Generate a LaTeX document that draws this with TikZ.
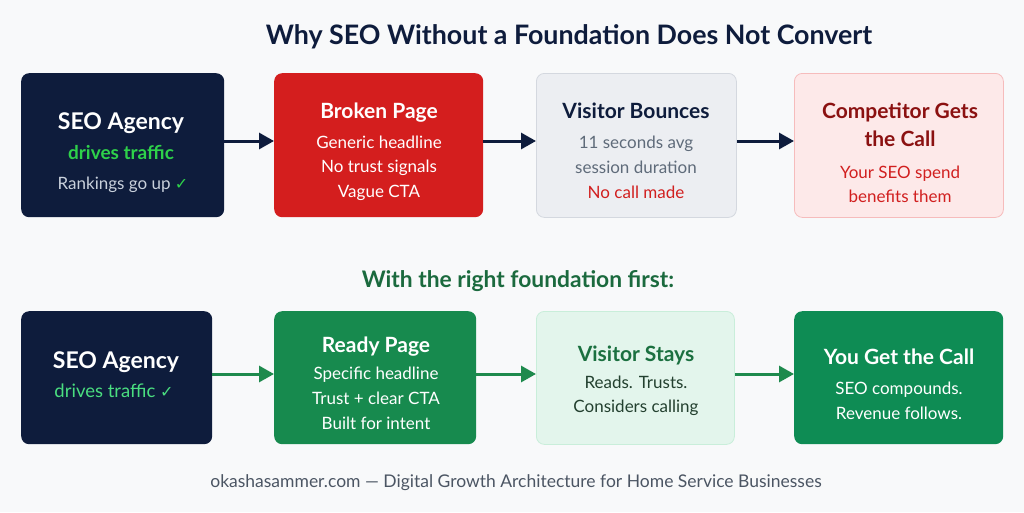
\documentclass[tikz,border=0pt]{standalone}
\usepackage{fontspec}
\setmainfont{Lato}
\newfontfamily\symf{DejaVu Sans}
\usetikzlibrary{arrows.meta}
\definecolor{bgc}{HTML}{F8F9FA}
\definecolor{navy}{HTML}{0E1C3C}
\definecolor{redbox}{HTML}{D41E1E}
\definecolor{graybox}{HTML}{ECEEF2}
\definecolor{grayline}{HTML}{D4D8DF}
\definecolor{pinkbox}{HTML}{FDE9E9}
\definecolor{pinkline}{HTML}{F6BCBC}
\definecolor{darkred}{HTML}{8B1111}
\definecolor{redtext}{HTML}{D11F1F}
\definecolor{greenbox}{HTML}{178A4E}
\definecolor{greenbox2}{HTML}{0E8C54}
\definecolor{lgreenbox}{HTML}{E3F5EC}
\definecolor{lgreenline}{HTML}{C9EEDA}
\definecolor{dgreen}{HTML}{1B6A3E}
\definecolor{gtitle}{HTML}{1B7040}
\definecolor{gtext}{HTML}{23402F}
\definecolor{bright}{HTML}{2ED14A}
\definecolor{lbright}{HTML}{4ADE80}
\definecolor{slate}{HTML}{5F6B7A}
\definecolor{ltslate}{HTML}{C9D1DC}
\definecolor{footc}{HTML}{4B5563}
\definecolor{garrow}{HTML}{1E8A4D}
\tikzset{
  box/.style={rectangle, rounded corners=8pt, anchor=north west, inner sep=0pt},
  ttl/.style={anchor=base, inner sep=0pt, font=\fontsize{21}{25}\selectfont\bfseries},
  bigttl/.style={anchor=base, inner sep=0pt, font=\fontsize{23}{27}\selectfont\bfseries},
  ln/.style={anchor=base, inner sep=0pt, font=\fontsize{17}{20}\selectfont},
  navyarrow/.style={draw=navy, line width=3pt, -{Triangle[length=15pt,width=16pt]}},
  greenarrow/.style={draw=garrow, line width=3pt, -{Triangle[length=15pt,width=16pt]}},
}
\begin{document}
\begin{tikzpicture}[x=1pt,y=-1pt]
\fill[bgc] (0,0) rectangle (1024,512);
\useasboundingbox (0,0) rectangle (1024,512);
% title
\node[anchor=base, inner sep=0pt, text=navy, font=\fontsize{26.8}{32}\selectfont\bfseries] (title) at (569,44) {Why SEO Without a Foundation Does Not Convert};
% top row boxes
\node[box, fill=navy, minimum width=203pt, minimum height=144pt] (a1) at (21,73) {};
\node[box, fill=redbox, minimum width=209pt, minimum height=144pt] (a2) at (274,73) {};
\node[box, fill=graybox, draw=grayline, line width=0.8pt, minimum width=200pt, minimum height=144pt] (a3) at (536,73) {};
\node[box, fill=pinkbox, draw=pinkline, line width=0.8pt, minimum width=209pt, minimum height=144pt] (a4) at (794,73) {};
% top texts
\node[bigttl, text=white] (a1t) at (121,129) {SEO Agency};
\node[anchor=base, inner sep=0pt, font=\fontsize{19}{23}\selectfont\bfseries, text=bright] (a1l1) at (121,159) {drives traffic};
\node[ln, text=ltslate] (a1l2) at (123,189) {Rankings go up {\symf\color{bright}\fontsize{16}{19}\selectfont ✓}};
\node[ttl, text=white] (a2t) at (379,118) {Broken Page};
\node[ln, text=white] (a2l1) at (379,148) {Generic headline};
\node[ln, text=white] (a2l2) at (379,172) {No trust signals};
\node[ln, text=white] (a2l3) at (379,197) {Vague CTA};
\node[ttl, text=navy] (a3t) at (636,118) {Visitor Bounces};
\node[ln, text=slate] (a3l1) at (636,148) {11 seconds avg};
\node[ln, text=slate] (a3l2) at (636,173) {session duration};
\node[ln, text=redtext] (a3l3) at (636,198) {No call made};
\node[ttl, text=darkred] (a4t) at (900,118) {Competitor Gets};
\node[ttl, text=darkred] (a4t2) at (900,146) {the Call};
\node[ln, text=redtext] (a4l1) at (900,178) {Your SEO spend};
\node[ln, text=redtext] (a4l2) at (900,202) {benefits them};
% top arrows
\draw[navyarrow] (a1.east |- 0,141) -- (a2.west |- 0,141);
\draw[navyarrow] (a2.east |- 0,141) -- (a3.west |- 0,141);
\draw[navyarrow] (a3.east |- 0,141) -- (a4.west |- 0,141);
% heading
\node[anchor=base, inner sep=0pt, text=dgreen, font=\fontsize{22.8}{27}\selectfont\bfseries] (sub) at (518,287) {With the right foundation first:};
% bottom row boxes
\node[box, fill=navy, minimum width=191pt, minimum height=133pt] (b1) at (21,311) {};
\node[box, fill=greenbox, minimum width=202pt, minimum height=133pt] (b2) at (274,311) {};
\node[box, fill=lgreenbox, draw=lgreenline, line width=0.8pt, minimum width=198pt, minimum height=133pt] (b3) at (536,311) {};
\node[box, fill=greenbox2, minimum width=209pt, minimum height=133pt] (b4) at (794,311) {};
% bottom texts
\node[bigttl, text=white] (b1t) at (116,368) {SEO Agency};
\node[ln, text=lbright, font=\fontsize{18.5}{22}\selectfont] (b1l1) at (114,397) {drives traffic {\symf\fontsize{16}{19}\selectfont ✓}};
\node[ttl, text=white] (b2t) at (376,352) {Ready Page};
\node[ln, text=white] (b2l1) at (376,379) {Specific headline};
\node[ln, text=white] (b2l2) at (376,404) {Trust + clear CTA};
\node[ln, text=white] (b2l3) at (376,429) {Built for intent};
\node[ttl, text=gtitle] (b3t) at (636,361) {Visitor Stays};
\node[ln, text=gtext] (b3l1) at (636,388) {Reads. Trusts.};
\node[ln, text=gtext] (b3l2) at (636,412) {Considers calling};
\node[ttl, text=white] (b4t) at (899,364) {You Get the Call};
\node[ln, text=white] (b4l1) at (899,394) {SEO compounds.};
\node[ln, text=white] (b4l2) at (899,419) {Revenue follows.};
% bottom arrows
\draw[greenarrow] (b1.east |- 0,374) -- (b2.west |- 0,374);
\draw[greenarrow] (b2.east |- 0,374) -- (b3.west |- 0,374);
\draw[greenarrow] (b3.east |- 0,374) -- (b4.west |- 0,374);
% footer
\node[anchor=base, inner sep=0pt, text=footc, font=\fontsize{17.5}{21}\selectfont] (foot) at (516,487) {okashasammer.com — Digital Growth Architecture for Home Service Businesses};
\end{tikzpicture}
\end{document}
